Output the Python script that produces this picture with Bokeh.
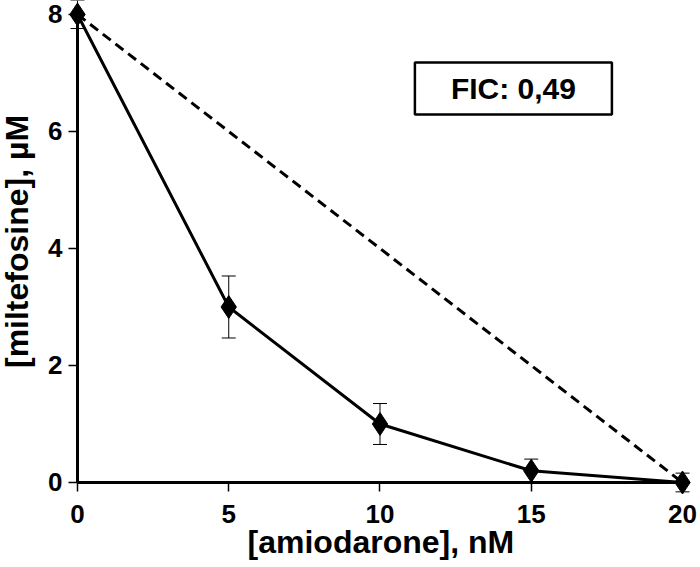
from bokeh.plotting import figure
from bokeh.models import Range1d, Whisker, ColumnDataSource, FixedTicker
from bokeh.core.properties import value
from bokeh.embed import file_html
from bokeh.resources import INLINE
import math

amiodarone = [0, 5, 10, 15, 20]
miltefosine = [8.0, 3.0, 1.0, 0.2, 0.0]
err = [0.24, 0.53, 0.35, 0.2, 0.16]
additivity_x = [0, 20]
additivity_y = [8, 0]
x_ticks = [0, 5, 10, 15, 20]
y_ticks = [0, 2, 4, 6, 8]
fic_text = "FIC: 0,49"
x_label = "[amiodarone], nM"
y_label = "[miltefosine], µM"

FONT = "Liberation Sans"

p = figure(width=700, height=567, output_backend="svg", toolbar_location=None,
           x_range=Range1d(-2.545, 20.595), y_range=Range1d(-1.453, 8.239),
           min_border_left=0, min_border_right=0, min_border_top=0, min_border_bottom=0)
p.outline_line_color = None
p.grid.visible = False

src = ColumnDataSource(dict(x=amiodarone, y=miltefosine,
                            lo=[m - e for m, e in zip(miltefosine, err)],
                            hi=[m + e for m, e in zip(miltefosine, err)]))

p.line(additivity_x, additivity_y, line_color="black", line_width=3, line_dash="10 6")
w = Whisker(source=src, base="x", lower="lo", upper="hi", line_color="black", line_width=1)
w.upper_head.size = 14
w.lower_head.size = 14
w.upper_head.line_width = 1
w.lower_head.line_width = 1
p.add_layout(w)
p.line("x", "y", source=src, line_color="black", line_width=3)
p.scatter("x", "y", source=src, marker="diamond", size=23, fill_color="black", line_color="black")

p.rect(x=[14.41], y=[6.735], width=[197], height=[52], width_units="screen", height_units="screen",
       fill_color="white", line_color="black", line_width=2.5)
p.text(x=[14.41], y=[6.735], text=[fic_text], text_font=value(FONT), text_font_style="bold",
       text_font_size="30px", text_align="center", text_baseline="middle", text_color="black")

p.text(x=[10.03], y=[-1.01], text=[x_label], text_font=value(FONT), text_font_style="bold",
       text_font_size="32px", text_align="center", text_baseline="middle", text_color="black")
p.text(x=[-2.0], y=[4.12], text=[y_label], text_font=value(FONT), text_font_style="bold",
       text_font_size="32px", text_align="center", text_baseline="middle", text_color="black",
       angle=math.pi / 2)

for ax in (p.xaxis[0], p.yaxis[0]):
    ax.fixed_location = 0
    ax.axis_line_width = 3
    ax.axis_line_color = "black"
    ax.major_tick_line_width = 1.5
    ax.major_tick_out = 9
    ax.major_tick_in = 0
    ax.minor_tick_line_color = None
    ax.major_label_text_font = FONT
    ax.major_label_text_font_style = "bold"
    ax.major_label_text_font_size = "26px"
    ax.major_label_text_color = "black"

p.xaxis.ticker = FixedTicker(ticks=x_ticks)
p.yaxis.ticker = FixedTicker(ticks=y_ticks)
p.xaxis.bounds = (0, 20)
p.yaxis.bounds = (0, 8)
p.xaxis.major_label_standoff = 14
p.yaxis.major_label_standoff = 6

open("out.html", "w").write(file_html(p, INLINE))
